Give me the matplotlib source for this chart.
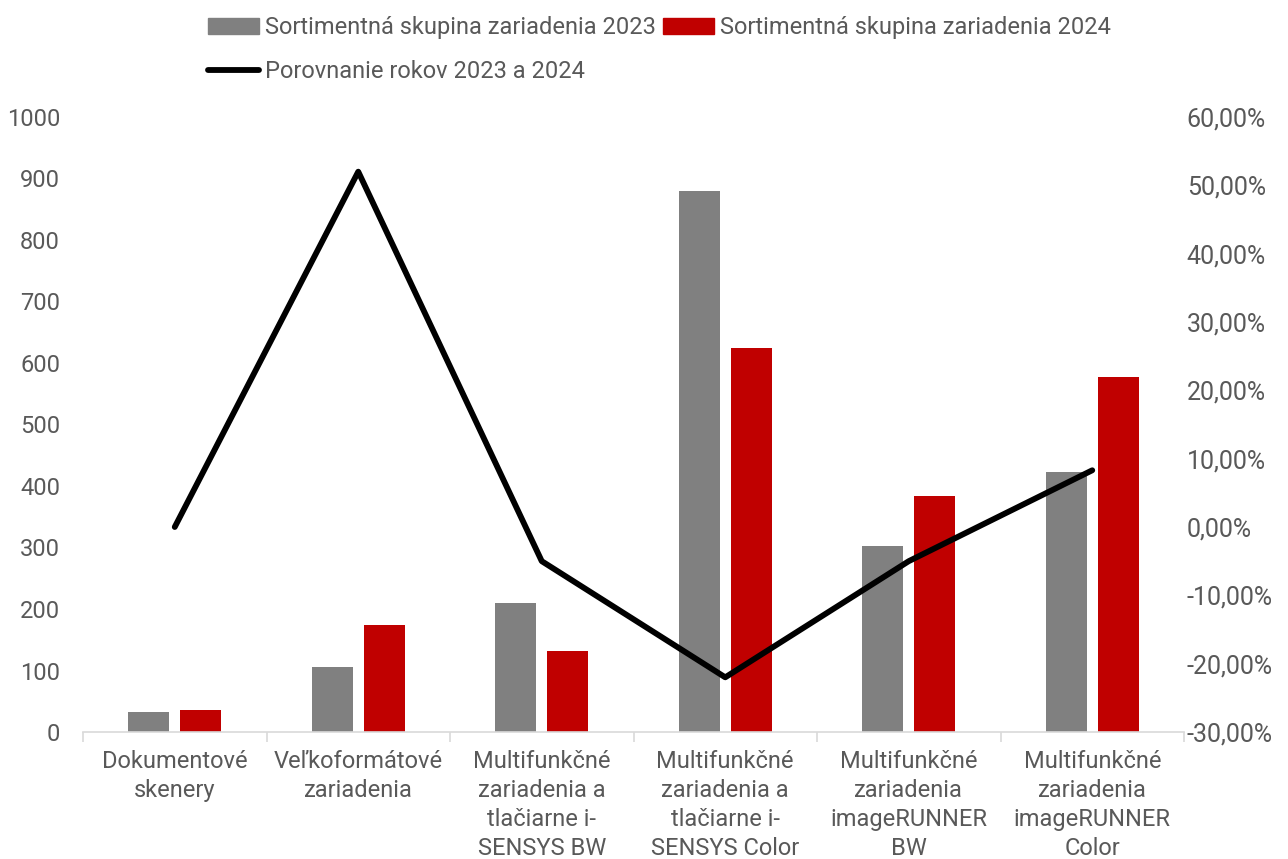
import matplotlib
matplotlib.use("Agg")
import matplotlib.pyplot as plt
import numpy as np
from matplotlib.patches import Patch
from matplotlib.lines import Line2D

categories = [
    "Dokumentové\nskenery",
    "Veľkoformátové\nzariadenia",
    "Multifunkčné\nzariadenia a\ntlačiarne i-\nSENSYS BW",
    "Multifunkčné\nzariadenia a\ntlačiarne i-\nSENSYS Color",
    "Multifunkčné\nzariadenia\nimageRUNNER\nBW",
    "Multifunkčné\nzariadenia\nimageRUNNER\nColor",
]
values_2023 = [33, 105, 209, 880, 303, 422]
values_2024 = [35, 174, 132, 624, 383, 578]
change_pct = [0.0, 52.0, -5.0, -22.0, -5.0, 8.3]

left_ticks = [0, 100, 200, 300, 400, 500, 600, 700, 800, 900, 1000]
right_ticks = [-30, -20, -10, 0, 10, 20, 30, 40, 50, 60]

label_2023 = "Sortimentná skupina zariadenia 2023"
label_2024 = "Sortimentná skupina zariadenia 2024"
label_line = "Porovnanie rokov 2023 a 2024"

GRAY = "#808080"
RED = "#c00000"
TXT = "#595959"
FS = 17

plt.rcParams['font.family'] = ['Roboto', 'DejaVu Sans']

fig = plt.figure(figsize=(12.88, 8.59), dpi=100)
ax = fig.add_axes([83/1288, 1 - 732/859, (1184-83)/1288, (732-117)/859])
ax2 = ax.twinx()

x = np.arange(len(categories))
w = 0.222
off = 0.142
ax.bar(x - off, values_2023, w, color=GRAY, zorder=2)
ax.bar(x + off, values_2024, w, color=RED, zorder=2)

ax2.plot(x, change_pct, color="black", lw=4.2, solid_capstyle="round",
         solid_joinstyle="round", zorder=3)

ax.set_xlim(-0.5, len(categories) - 0.5)
ax.set_ylim(0, 1000)
ax2.set_ylim(-30, 60)
ax.set_yticks(left_ticks)
ax.set_yticklabels([str(t) for t in left_ticks])
ax2.set_yticks(right_ticks)
ax2.set_yticklabels([f"{t:.2f}%".replace(".", ",") for t in right_ticks])

for a in (ax, ax2):
    for s in a.spines.values():
        s.set_visible(False)
ax.spines['bottom'].set_visible(True)
ax.spines['bottom'].set_color("#d9d9d9")
ax.spines['bottom'].set_linewidth(1.2)

ax.tick_params(axis='y', length=0, pad=16.5, labelsize=FS, labelcolor=TXT)
ax2.tick_params(axis='y', length=0, pad=2, labelsize=FS + 1, labelcolor=TXT)

# category tick marks at separators
ax.set_xticks(np.arange(len(categories) + 1) - 0.5, minor=False)
ax.set_xticklabels([])
ax.tick_params(axis='x', which='major', length=7, width=1.2, color="#d9d9d9", direction='out')
ax.set_xticks(x, minor=True)
ax.set_xticklabels(categories, minor=True, fontsize=FS, color=TXT, linespacing=1.33)
ax.tick_params(axis='x', which='minor', length=0, pad=13)

handles = [Patch(color=GRAY, label=label_2023),
           Line2D([0], [0], color="black", lw=4.2, solid_capstyle="round", label=label_line),
           Patch(color=RED, label=label_2024)]
fig.legend(handles=handles, ncol=2, loc='upper left', bbox_to_anchor=(187/1288, 1 + 5/859),
           frameon=False, fontsize=FS, labelcolor=TXT, handlelength=2.15,
           handleheight=0.65, handletextpad=0.25, columnspacing=0.3, labelspacing=0.9)

fig.savefig("out.png", dpi=100)
